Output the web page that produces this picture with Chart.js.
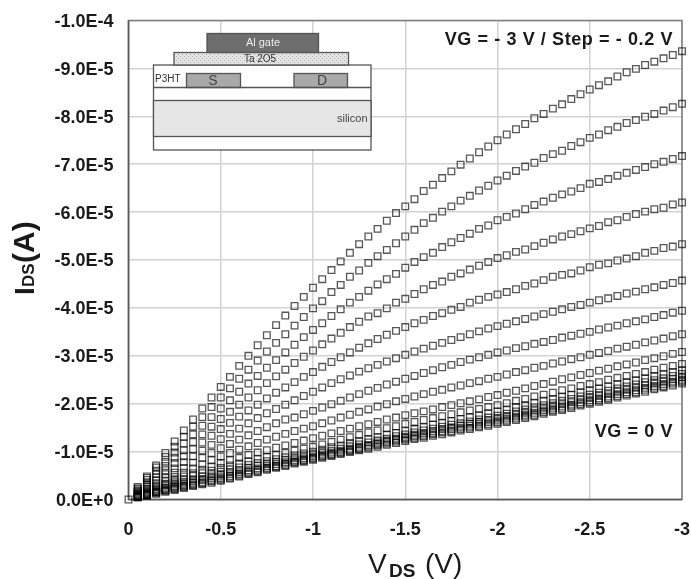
<!DOCTYPE html>
<html lang="en">
<head>
  <meta charset="UTF-8">
  <title>IDS vs VDS</title>
  <style>
    html, body { margin: 0; padding: 0; background: #fff; }
    canvas { display: block; }
  </style>
</head>
<body>
  <canvas id="graphic" width="691" height="579"></canvas>

  <script src="https://cdn.jsdelivr.net/npm/chart.js"></script>

  <script>
    // VDS magnitude in V, every 0.05 V
    const vds = [0,
      0.05,0.10,0.15,0.20,0.25,0.30,0.35,0.40,0.45,0.50,0.55,0.60,0.65,0.70,0.75,0.80,0.85,0.90,0.95,1.00,
      1.05,1.10,1.15,1.20,1.25,1.30,1.35,1.40,1.45,1.50,1.55,1.60,1.65,1.70,1.75,1.80,1.85,1.90,1.95,2.00,
      2.05,2.10,2.15,2.20,2.25,2.30,2.35,2.40,2.45,2.50,2.55,2.60,2.65,2.70,2.75,2.80,2.85,2.90,2.95,3.00];

    // IDS magnitude in units of 1E-5 A, one array per gate step
    // (only the first curve keeps its point at the origin, the picture shows one square there)
    const vg30 = [0,
      .26,.48,.71,.97,1.21,1.44,1.67,1.90,2.13,2.35,2.56,2.79,3.00,3.22,3.43,3.64,3.84,4.04,4.23,4.42,
      4.60,4.79,4.97,5.15,5.33,5.49,5.65,5.82,5.98,6.12,6.27,6.44,6.57,6.71,6.85,6.99,7.12,7.25,7.37,7.50,
      7.62,7.73,7.84,7.96,8.05,8.16,8.25,8.36,8.46,8.56,8.65,8.73,8.83,8.92,8.99,9.07,9.14,9.21,9.28,9.36];
    const vg28 = [null,
      .23,.45,.67,.89,1.10,1.31,1.52,1.72,1.93,2.13,2.32,2.52,2.71,2.90,3.09,3.27,3.45,3.63,3.81,3.99,
      4.14,4.33,4.48,4.65,4.78,4.94,5.08,5.21,5.35,5.49,5.63,5.77,5.88,6.01,6.12,6.24,6.34,6.45,6.55,6.66,
      6.76,6.86,6.95,7.03,7.13,7.21,7.28,7.38,7.46,7.55,7.62,7.71,7.78,7.86,7.92,7.99,8.05,8.12,8.19,8.26];
    const vg26 = [null,
      .21,.41,.60,.79,.98,1.17,1.36,1.54,1.72,1.90,2.07,2.25,2.42,2.58,2.75,2.91,3.07,3.23,3.39,3.54,
      3.68,3.83,3.97,4.11,4.23,4.36,4.49,4.60,4.71,4.84,4.96,5.06,5.15,5.27,5.37,5.46,5.55,5.65,5.72,5.83,
      5.90,5.97,6.06,6.15,6.22,6.30,6.37,6.43,6.50,6.59,6.63,6.69,6.76,6.82,6.88,6.94,7.00,7.05,7.11,7.17];
    const vg24 = [null,
      .18,.36,.53,.70,.87,1.03,1.20,1.36,1.52,1.68,1.83,1.98,2.13,2.28,2.43,2.57,2.71,2.85,2.98,3.11,
      3.24,3.36,3.48,3.60,3.71,3.82,3.89,3.99,4.11,4.19,4.29,4.39,4.48,4.55,4.65,4.72,4.80,4.88,4.96,5.04,
      5.10,5.17,5.22,5.29,5.36,5.43,5.49,5.54,5.60,5.66,5.71,5.79,5.83,5.90,5.96,6.01,6.06,6.09,6.16,6.20];
    const vg22 = [null,
      .16,.31,.46,.61,.76,.90,1.05,1.19,1.33,1.47,1.60,1.73,1.86,1.98,2.11,2.23,2.34,2.45,2.56,2.66,
      2.77,2.87,2.97,3.07,3.17,3.26,3.35,3.44,3.52,3.60,3.68,3.75,3.83,3.89,3.96,4.02,4.11,4.17,4.23,4.28,
      4.33,4.39,4.46,4.51,4.58,4.65,4.69,4.72,4.78,4.85,4.90,4.93,4.99,5.03,5.08,5.15,5.19,5.25,5.28,5.33];
    const vg20 = [null,
      .14,.27,.40,.53,.65,.78,.90,1.02,1.14,1.26,1.37,1.48,1.59,1.70,1.80,1.89,1.98,2.07,2.16,2.25,
      2.34,2.43,2.51,2.59,2.67,2.74,2.81,2.88,2.95,3.02,3.09,3.15,3.21,3.27,3.33,3.39,3.45,3.51,3.57,3.62,
      3.67,3.72,3.77,3.82,3.87,3.92,3.97,4.02,4.06,4.11,4.16,4.20,4.25,4.30,4.34,4.39,4.43,4.48,4.52,4.57];
    const vg18 = [null,
      .12,.23,.34,.45,.56,.66,.77,.87,.97,1.07,1.16,1.25,1.34,1.43,1.51,1.59,1.67,1.71,1.78,1.85,
      1.92,1.99,2.06,2.13,2.20,2.27,2.33,2.40,2.46,2.52,2.58,2.64,2.70,2.76,2.81,2.87,2.92,2.97,3.02,3.07,
      3.11,3.16,3.20,3.25,3.29,3.33,3.38,3.42,3.46,3.50,3.55,3.59,3.63,3.68,3.72,3.76,3.81,3.85,3.90,3.94];
    const vg16 = [null,
      .10,.20,.29,.38,.47,.56,.65,.73,.82,.90,.97,1.04,1.11,1.18,1.25,1.31,1.37,1.43,1.48,1.53,
      1.59,1.65,1.71,1.77,1.83,1.88,1.94,1.99,2.05,2.10,2.15,2.20,2.25,2.29,2.34,2.38,2.43,2.47,2.52,2.56,
      2.61,2.66,2.70,2.75,2.79,2.84,2.88,2.93,2.97,3.02,3.06,3.10,3.15,3.19,3.23,3.28,3.32,3.36,3.41,3.45];
    const vg14 = [null,
      .09,.17,.25,.33,.40,.48,.55,.62,.69,.76,.82,.87,.93,.98,1.03,1.08,1.13,1.18,1.23,1.28,
      1.33,1.38,1.43,1.48,1.53,1.57,1.62,1.67,1.71,1.76,1.80,1.84,1.88,1.93,1.97,2.01,2.05,2.09,2.14,2.18,
      2.23,2.27,2.32,2.37,2.41,2.46,2.51,2.55,2.60,2.64,2.69,2.73,2.78,2.82,2.86,2.91,2.95,2.99,3.04,3.08];
    const vg12 = [null,
      .08,.15,.22,.29,.36,.42,.49,.55,.60,.66,.71,.75,.80,.85,.89,.93,.97,1.02,1.06,1.10,
      1.15,1.20,1.25,1.30,1.35,1.40,1.44,1.49,1.53,1.58,1.62,1.66,1.70,1.74,1.78,1.82,1.86,1.89,1.93,1.97,
      2.01,2.06,2.10,2.15,2.19,2.23,2.28,2.32,2.37,2.41,2.45,2.50,2.54,2.58,2.62,2.66,2.71,2.75,2.79,2.83];
    const vg10 = [null,
      .07,.13,.19,.25,.31,.37,.42,.48,.53,.58,.63,.67,.72,.76,.80,.84,.88,.92,.96,1.00,
      1.04,1.09,1.13,1.18,1.22,1.26,1.30,1.35,1.39,1.43,1.47,1.51,1.56,1.60,1.64,1.68,1.72,1.76,1.80,1.84,
      1.88,1.93,1.97,2.02,2.06,2.10,2.15,2.19,2.24,2.28,2.32,2.36,2.41,2.45,2.49,2.53,2.58,2.62,2.66,2.70];
    const vg08 = [null,
      .06,.12,.17,.23,.28,.33,.38,.43,.48,.52,.57,.61,.66,.70,.74,.78,.82,.86,.90,.94,
      .98,1.02,1.06,1.11,1.15,1.19,1.23,1.27,1.32,1.36,1.40,1.44,1.48,1.52,1.56,1.59,1.63,1.67,1.71,1.75,
      1.79,1.84,1.88,1.92,1.97,2.01,2.06,2.10,2.15,2.19,2.23,2.27,2.32,2.36,2.40,2.45,2.49,2.53,2.58,2.62];
    const vg06 = [null,
      .06,.11,.16,.21,.26,.30,.35,.40,.44,.48,.53,.57,.61,.65,.70,.74,.78,.82,.86,.90,
      .94,.98,1.02,1.06,1.10,1.14,1.19,1.23,1.27,1.31,1.35,1.39,1.43,1.47,1.50,1.54,1.58,1.62,1.65,1.69,
      1.73,1.77,1.81,1.86,1.90,1.94,1.99,2.03,2.08,2.12,2.16,2.20,2.25,2.29,2.33,2.38,2.42,2.46,2.51,2.55];
    const vg04 = [null,
      .05,.10,.15,.19,.24,.28,.32,.36,.40,.44,.49,.53,.58,.62,.66,.70,.75,.79,.83,.87,
      .91,.95,.99,1.03,1.07,1.12,1.16,1.20,1.24,1.28,1.32,1.35,1.39,1.43,1.47,1.50,1.54,1.58,1.61,1.65,
      1.69,1.73,1.77,1.81,1.86,1.90,1.94,1.98,2.03,2.07,2.11,2.15,2.20,2.24,2.28,2.33,2.37,2.41,2.46,2.50];
    const vg02 = [null,
      .05,.09,.14,.18,.22,.26,.30,.34,.38,.41,.46,.50,.55,.59,.64,.68,.72,.77,.81,.85,
      .89,.93,.97,1.01,1.05,1.09,1.13,1.17,1.21,1.25,1.29,1.32,1.36,1.40,1.43,1.47,1.50,1.54,1.57,1.61,
      1.65,1.69,1.73,1.77,1.82,1.86,1.90,1.94,1.99,2.03,2.07,2.11,2.16,2.20,2.24,2.29,2.33,2.37,2.42,2.46];
    const vg00 = [null,
      .04,.08,.12,.16,.20,.24,.28,.32,.35,.39,.44,.48,.53,.57,.62,.66,.70,.75,.79,.83,
      .87,.91,.95,.99,1.03,1.06,1.10,1.14,1.18,1.22,1.26,1.29,1.33,1.36,1.40,1.44,1.47,1.51,1.54,1.58,
      1.62,1.66,1.70,1.74,1.79,1.83,1.87,1.91,1.96,2.00,2.04,2.08,2.13,2.17,2.21,2.25,2.30,2.34,2.38,2.42];

    const curves = [vg30, vg28, vg26, vg24, vg22, vg20, vg18, vg16, vg14, vg12, vg10, vg08, vg06, vg04, vg02, vg00];

    const xTickLabels = ["0", "-0.5", "-1", "-1.5", "-2", "-2.5", "-3"];
    const yTickLabels = ["0.0E+0", "-1.0E-5", "-2.0E-5", "-3.0E-5", "-4.0E-5", "-5.0E-5",
      "-6.0E-5", "-7.0E-5", "-8.0E-5", "-9.0E-5", "-1.0E-4"];

    const FONT = '"Liberation Sans", Arial, sans-serif';

    function box(ctx, x, y, w, h, fill) {
      ctx.fillStyle = fill;
      ctx.fillRect(x, y, w, h);
      ctx.strokeRect(x, y, w, h);
    }

    function label(ctx, text, x, y, font, color, align) {
      ctx.font = font;
      ctx.fillStyle = color;
      ctx.textAlign = align || "center";
      ctx.textBaseline = "middle";
      ctx.fillText(text, x, y);
    }

    function hatch(ctx) {
      const c = document.createElement("canvas");
      c.width = c.height = 4;
      const p = c.getContext("2d");
      p.fillStyle = "#e4e4e4";
      p.fillRect(0, 0, 4, 4);
      p.fillStyle = "#a8a8a8";
      p.fillRect(0, 0, 1, 1);
      p.fillRect(2, 2, 1, 1);
      return ctx.createPattern(c, "repeat");
    }

    // frame around the plot, device sketch, notes and the axis titles with subscripts
    const decorations = {
      id: "decorations",
      beforeDatasetsDraw(chart) {
        const ctx = chart.ctx;
        const a = chart.chartArea;
        ctx.save();
        ctx.strokeStyle = "#7d7d7d";
        ctx.lineWidth = 1.5;
        ctx.strokeRect(a.left, a.top, a.right - a.left, a.bottom - a.top);
        ctx.strokeStyle = "#5a5a5a";
        ctx.beginPath();
        ctx.moveTo(a.left, a.top);
        ctx.lineTo(a.left, a.bottom);
        ctx.lineTo(a.right, a.bottom);
        ctx.stroke();

        ctx.strokeStyle = "#555";
        ctx.lineWidth = 1.3;
        box(ctx, 153.5, 65, 217.5, 85, "#fff");
        box(ctx, 153.5, 100.5, 217.5, 36, "#e6e6e6");
        box(ctx, 174, 52.5, 174.5, 12.5, hatch(ctx));
        box(ctx, 207, 33.5, 111.5, 19, "#6e6e6e");
        box(ctx, 186.5, 73.5, 54, 14, "#a9a9a9");
        box(ctx, 294, 73.5, 53.5, 14, "#a9a9a9");
        ctx.beginPath();
        ctx.moveTo(153.5, 87.5);
        ctx.lineTo(371, 87.5);
        ctx.stroke();
        label(ctx, "Al gate", 263, 43, "11px " + FONT, "#eee");
        label(ctx, "Ta 2O5", 260, 59.5, "10px " + FONT, "#333");
        label(ctx, "P3HT", 155, 79, "10px " + FONT, "#333", "left");
        label(ctx, "S", 213, 81.5, "14px " + FONT, "#444");
        label(ctx, "D", 322, 81.5, "14px " + FONT, "#444");
        label(ctx, "silicon", 367.5, 118.5, "11px " + FONT, "#444", "right");

        ctx.letterSpacing = "0.6px";
        label(ctx, "VG = - 3 V / Step = - 0.2 V", 673, 40, "bold 18px " + FONT, "#1a1a1a", "right");
        label(ctx, "VG = 0 V", 673, 432, "bold 18px " + FONT, "#1a1a1a", "right");
        ctx.letterSpacing = "0px";
        ctx.restore();
      },
      afterDraw(chart) {
        const ctx = chart.ctx;
        ctx.save();
        ctx.textBaseline = "alphabetic";
        ctx.textAlign = "left";
        ctx.fillStyle = "#1a1a1a";
        ctx.font = "28px " + FONT;
        ctx.fillText("V", 368, 573);
        ctx.font = "bold 19px " + FONT;
        ctx.fillText("DS", 389, 577);
        ctx.font = "28px " + FONT;
        ctx.fillText("(V)", 425, 573);

        ctx.translate(34, 295);
        ctx.rotate(-Math.PI / 2);
        ctx.font = "bold 28px " + FONT;
        ctx.fillText("I", 0, 0);
        ctx.font = "bold 17px " + FONT;
        ctx.fillText("DS", 8, 0);
        ctx.font = "bold 30px " + FONT;
        ctx.fillText("(A)", 32, 0);
        ctx.restore();
      }
    };

    const lienzo = document.getElementById("graphic");

    new Chart(lienzo, {
      type: "scatter",
      data: {
        datasets: curves.map(curve => ({
          data: curve.map((y, i) => ({ x: vds[i], y: y })),
          showLine: false,
          clip: false,
          pointStyle: "rect",
          pointRadius: 4.7,
          pointBorderWidth: 1.3,
          pointBorderColor: "rgba(0,0,0,0.66)",
          pointBackgroundColor: "rgba(255,255,255,0)"
        }))
      },
      options: {
        responsive: false,
        animation: false,
        layout: { padding: { top: 20.5, right: 9 } },
        plugins: { legend: { display: false }, tooltip: { enabled: false } },
        scales: {
          x: {
            type: "linear",
            min: 0,
            max: 3,
            afterFit: scale => { scale.height = 79.5; scale.paddingLeft = 0; scale.paddingRight = 0; },
            border: { display: false },
            grid: { color: "#d2d2d2", lineWidth: 1.5, drawTicks: false },
            ticks: {
              stepSize: 0.5,
              padding: 20,
              maxRotation: 0,
              color: "#1a1a1a",
              font: { family: FONT, size: 18, weight: "bold" },
              callback: (v, i) => xTickLabels[i]
            }
          },
          y: {
            type: "linear",
            min: 0,
            max: 10,
            afterFit: scale => { scale.width = 128.5; scale.paddingTop = 0; scale.paddingBottom = 0; },
            border: { display: false },
            grid: { color: "#d2d2d2", lineWidth: 1.5, drawTicks: false },
            ticks: {
              stepSize: 1,
              padding: 15,
              labelOffset: 1.5,
              color: "#1a1a1a",
              font: { family: FONT, size: 18, weight: "bold" },
              callback: (v, i) => yTickLabels[i]
            }
          }
        }
      },
      plugins: [decorations]
    });
  </script>
</body>
</html>
